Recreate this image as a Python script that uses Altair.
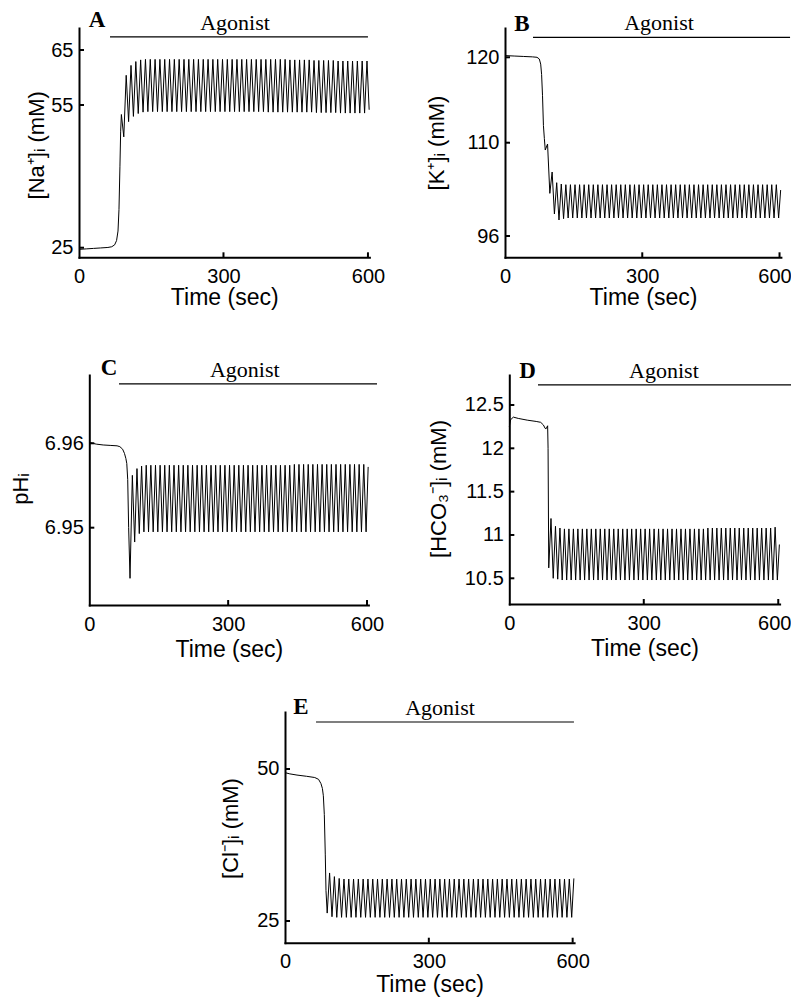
import altair as alt
import pandas as pd

# ---------------- data ----------------
# shared sample times of the oscillation peaks / troughs (s)
osc_t = [88, 93, 98, 103, 108, 113, 118, 123, 128, 133,
         138, 143, 148, 153, 158, 163, 168, 173, 178, 183,
         188, 193, 198, 203, 208, 213, 218, 223, 228, 233,
         238, 243, 248, 253, 258, 263, 268, 273, 278, 283,
         288, 293, 298, 303, 308, 313, 318, 323, 328, 333,
         338, 343, 348, 353, 358, 363, 368, 373, 378, 383,
         388, 393, 398, 403, 408, 413, 418, 423, 428, 433,
         438, 443, 448, 453, 458, 463, 468, 473, 478, 483,
         488, 493, 498, 503, 508, 513, 518, 523, 528, 533,
         538, 543, 548, 553, 558, 563, 568, 573, 578, 583,
         588, 593, 598, 602.5]

# A: [Na+]i
na_pre_t = [0, 15, 30, 45, 60, 68, 74, 78, 81, 83, 85, 86.5]
na_pre_v = [24.65, 24.75, 24.85, 24.95, 25.05, 25.2, 25.6, 26.5, 28.5, 33, 42, 49.5]
na_osc_v = [53.0, 48.3, 60.4, 51.5, 62.2, 52.6, 62.9, 53.2, 63.2, 53.5,
            63.3, 53.6, 63.3, 53.6, 63.3, 53.6, 63.3, 53.6, 63.3, 53.6,
            63.3, 53.6, 63.3, 53.6, 63.3, 53.6, 63.3, 53.6, 63.3, 53.6,
            63.3, 53.6, 63.3, 53.6, 63.3, 53.6, 63.3, 53.6, 63.3, 53.6,
            63.3, 53.6, 63.3, 53.6, 63.3, 53.6, 63.3, 53.6, 63.3, 53.6,
            63.3, 53.6, 63.3, 53.6, 63.3, 53.6, 63.3, 53.6, 63.3, 53.6,
            63.3, 53.5, 63.3, 53.5, 63.3, 53.5, 63.3, 53.5, 63.3, 53.5,
            63.2, 53.5, 63.2, 53.5, 63.2, 53.5, 63.2, 53.5, 63.2, 53.5,
            63.1, 53.4, 63.1, 53.4, 63.1, 53.4, 63.1, 53.4, 63.1, 53.4,
            63.0, 53.3, 63.0, 53.3, 63.0, 53.3, 63.0, 53.3, 63.0, 53.3,
            63.0, 53.3, 63.0, 54.0]

# B: [K+]i
k_pre_t = [0, 20, 40, 60, 70, 75, 78, 80, 82, 84, 86]
k_pre_v = [120.2, 120.15, 120.1, 120.05, 120.0, 119.8, 119.2, 118.0, 115.5, 112.0, 110.5]
k_osc_v = [108.9, 109.8, 102.4, 105.6, 99.3, 104.0, 98.4, 103.8, 98.6, 103.7,
           98.7, 103.7, 98.7, 103.7, 98.7, 103.7, 98.7, 103.7, 98.7, 103.7,
           98.7, 103.7, 98.7, 103.7, 98.7, 103.7, 98.7, 103.7, 98.7, 103.7,
           98.7, 103.7, 98.7, 103.7, 98.7, 103.7, 98.7, 103.7, 98.7, 103.7,
           98.7, 103.7, 98.7, 103.7, 98.7, 103.7, 98.7, 103.7, 98.7, 103.7,
           98.7, 103.7, 98.7, 103.7, 98.7, 103.7, 98.7, 103.7, 98.7, 103.7,
           98.7, 103.7, 98.7, 103.7, 98.7, 103.7, 98.7, 103.7, 98.7, 103.7,
           98.7, 103.7, 98.7, 103.7, 98.7, 103.7, 98.7, 103.7, 98.7, 103.7,
           98.7, 103.7, 98.7, 103.7, 98.7, 103.7, 98.7, 103.7, 98.7, 103.7,
           98.7, 103.7, 98.7, 103.7, 98.7, 103.7, 98.7, 103.7, 98.7, 103.7,
           98.7, 103.7, 98.7, 102.9]

# C: pHi
ph_pre_t = [0, 15, 30, 45, 60, 66, 72, 76, 79, 81, 83, 85]
ph_pre_v = [6.9601, 6.9599, 6.9598, 6.95975, 6.9597, 6.9596, 6.9593, 6.9588,
            6.9582, 6.9576, 6.9557, 6.9500]
ph_osc_v = [6.9440, 6.9562, 6.9483, 6.9570, 6.9493, 6.9573, 6.9495, 6.9574, 6.9495, 6.9574,
            6.9495, 6.9574, 6.9495, 6.9574, 6.9495, 6.9574, 6.9495, 6.9574, 6.9495, 6.9574,
            6.9495, 6.9574, 6.9495, 6.9574, 6.9495, 6.9574, 6.9495, 6.9574, 6.9495, 6.9574,
            6.9495, 6.9574, 6.9495, 6.9574, 6.9495, 6.9574, 6.9495, 6.9574, 6.9495, 6.9574,
            6.9495, 6.9574, 6.9495, 6.9574, 6.9495, 6.9574, 6.9495, 6.9574, 6.9495, 6.9574,
            6.9495, 6.9574, 6.9495, 6.9574, 6.9495, 6.9574, 6.9495, 6.9574, 6.9495, 6.9574,
            6.9495, 6.9574, 6.9495, 6.9574, 6.9495, 6.9574, 6.9495, 6.9574, 6.9495, 6.9574,
            6.9495, 6.9575, 6.9495, 6.9575, 6.9495, 6.9575, 6.9495, 6.9575, 6.9495, 6.9575,
            6.9495, 6.9575, 6.9495, 6.9575, 6.9495, 6.9575, 6.9495, 6.9575, 6.9495, 6.9575,
            6.9495, 6.9575, 6.9495, 6.9575, 6.9495, 6.9575, 6.9495, 6.9575, 6.9495, 6.9575,
            6.9495, 6.9575, 6.9495, 6.9572]

# D: [HCO3-]i
hco3_pre_t = [0, 3, 9, 20, 40, 60, 70, 76, 80, 82, 85.5, 86.5]
hco3_pre_v = [12.25, 12.33, 12.36, 12.345, 12.325, 12.31, 12.30, 12.27, 12.23, 12.225, 12.26, 12.0]
hco3_osc_v = [10.62, 11.19, 10.50, 11.10, 10.49, 11.08, 10.48, 11.07, 10.48, 11.07,
              10.48, 11.07, 10.48, 11.07, 10.48, 11.07, 10.48, 11.07, 10.48, 11.07,
              10.48, 11.07, 10.48, 11.07, 10.48, 11.07, 10.48, 11.07, 10.48, 11.07,
              10.48, 11.07, 10.48, 11.07, 10.48, 11.07, 10.48, 11.07, 10.48, 11.07,
              10.48, 11.07, 10.48, 11.07, 10.48, 11.07, 10.48, 11.07, 10.48, 11.07,
              10.48, 11.07, 10.48, 11.07, 10.48, 11.07, 10.48, 11.07, 10.48, 11.07,
              10.48, 11.07, 10.48, 11.07, 10.48, 11.07, 10.48, 11.07, 10.48, 11.07,
              10.48, 11.08, 10.48, 11.08, 10.48, 11.08, 10.48, 11.08, 10.48, 11.08,
              10.48, 11.08, 10.48, 11.08, 10.48, 11.08, 10.48, 11.08, 10.48, 11.08,
              10.48, 11.08, 10.48, 11.08, 10.48, 11.08, 10.48, 11.08, 10.48, 11.08,
              10.48, 11.09, 10.48, 10.89]

# E: [Cl-]i
cl_pre_t = [0, 10, 25, 45, 62, 70, 75, 78, 80, 82, 84, 85.5]
cl_pre_v = [49.4, 49.2, 49.0, 48.8, 48.6, 48.3, 47.6, 46.8, 45.6, 42.5, 36, 30]
cl_osc_v = [26.3, 32.9, 25.7, 32.3, 25.6, 32.0, 25.6, 31.9, 25.6, 31.9,
            25.6, 31.9, 25.6, 31.9, 25.6, 31.9, 25.6, 31.9, 25.6, 31.9,
            25.6, 31.9, 25.6, 31.9, 25.6, 31.9, 25.6, 31.9, 25.6, 31.9,
            25.6, 31.9, 25.6, 31.9, 25.6, 31.9, 25.6, 31.9, 25.6, 31.9,
            25.6, 31.9, 25.6, 31.9, 25.6, 31.9, 25.6, 31.9, 25.6, 31.9,
            25.6, 31.9, 25.6, 31.9, 25.6, 31.9, 25.6, 31.9, 25.6, 31.9,
            25.6, 31.9, 25.6, 31.9, 25.6, 31.9, 25.6, 31.9, 25.6, 31.9,
            25.6, 31.9, 25.6, 31.9, 25.6, 31.9, 25.6, 31.9, 25.6, 31.9,
            25.6, 31.9, 25.6, 31.9, 25.6, 31.9, 25.6, 31.9, 25.6, 31.9,
            25.6, 31.9, 25.6, 31.9, 25.6, 31.9, 25.6, 31.9, 25.6, 31.9,
            25.6, 31.9, 25.6, 32.0]

# axis ticks and labels
x_ticks = [0, 300, 600]
na_ticks = [25, 55, 65]
k_ticks = [96, 110, 120]
ph_ticks = [6.95, 6.96]
hco3_ticks = [10.5, 11, 11.5, 12, 12.5]
cl_ticks = [25, 50]

panel_letters = ["A", "B", "C", "D", "E"]
y_titles = ["[Na⁺]ᵢ (mM)", "[K⁺]ᵢ (mM)", "pHᵢ", "[HCO₃⁻]ᵢ (mM)", "[Cl⁻]ᵢ (mM)"]
x_title = "Time (sec)"
agonist_label = "Agonist"
# agonist bar (time start/end, level in panel units)
agonist_start = [64.4, 61.2, 64.2, 64.0, 64.7]
agonist_end = [600, 623, 621.6, 639.5, 602.7]
agonist_level = [67.4, 122.34, 6.96703, 12.731, 57.73]
agonist_text_t = [323.9, 336.6, 335.8, 345, 323.3]
agonist_text_v = [68.6, 123.2, 6.96789, 12.815, 58.88]
letter_t = [37.4, 37.2, 42.6, 40.6, 33.4]
letter_v = [69.2, 123.1, 6.96809, 12.808, 59.05]

# ---------------- layout (positions / styles) ----------------
W, H = 783, 990
layout = [
    dict(x_range=[71, 361.4], y_domain=[22.98, 25, 55, 65, 69.0],
         y_range=[249.3, 239.7, 97, 42, 20], title_x=-36, title_y=136.8, xtitle_y=47,
         ytick_len=10.4, xtick_v=[22.98, 24.03], last_label_shift=0),
    dict(x_range=[497, 772.9], y_domain=[92.80, 96, 110, 120, 123.43],
         y_range=[249.3, 228, 134.7, 49.3, 20], title_x=-62, title_y=134.5, xtitle_y=47,
         ytick_len=10.9, xtick_v=[92.80, 93.55], last_label_shift=-5),
    dict(x_range=[81.3, 360.4], y_domain=[6.94084, 6.96809],
         y_range=[597, 367], title_x=-61.5, title_y=480.5, xtitle_y=51,
         ytick_len=10.8, xtick_v=[6.94084, 6.94143], last_label_shift=0),
    dict(x_range=[501.3, 771.6], y_domain=[10.2034, 12.846],
         y_range=[596, 367], title_x=-64.3, title_y=480.5, xtitle_y=51,
         ytick_len=11.2, xtick_v=[10.2034, 10.261], last_label_shift=-4),
    dict(x_range=[277, 566.1], y_domain=[21.43, 59.375],
         y_range=[934.7, 704], title_x=-48, title_y=820, xtitle_y=49,
         ytick_len=10.4, xtick_v=[21.43, 22.25], last_label_shift=0),
]

series = [
    (na_pre_t, na_pre_v, na_osc_v, na_ticks),
    (k_pre_t, k_pre_v, k_osc_v, k_ticks),
    (ph_pre_t, ph_pre_v, ph_osc_v, ph_ticks),
    (hco3_pre_t, hco3_pre_v, hco3_osc_v, hco3_ticks),
    (cl_pre_t, cl_pre_v, cl_osc_v, cl_ticks),
]

SANS = "Liberation Sans"
SERIF = "Liberation Serif"


def panel_layers(i):
    pre_t, pre_v, osc_v, yt = series[i]
    g = layout[i]

    def sx():
        return alt.Scale(domain=[0, 603], range=g["x_range"], nice=False, zero=False)

    def sy():
        return alt.Scale(domain=g["y_domain"], range=g["y_range"], nice=False, zero=False)

    df = pd.DataFrame({"t": pre_t + osc_t, "v": pre_v + osc_v})

    x_axis_kw = dict(orient="bottom", offset=g["y_range"][0] - H, values=x_ticks,
                     format=".6~g", title=x_title, titleFontSize=23,
                     titleBaseline="alphabetic", titleY=g["xtitle_y"],
                     labelPadding=9, labelFlush=False, domainCap="square")
    if g["last_label_shift"]:
        x_axis_kw["labelOffset"] = {"condition": {"test": "datum.value >= 600",
                                                  "value": g["last_label_shift"]},
                                    "value": 0}
    x_axis = alt.Axis(**x_axis_kw)
    y_axis = alt.Axis(orient="left", offset=-g["x_range"][0], values=yt, format=".6~g",
                      title=y_titles[i], titleAngle=270, titleAlign="center",
                      titleBaseline="alphabetic", titleX=g["title_x"], titleY=g["title_y"],
                      labelPadding=6, domainCap="square")

    line = alt.Chart(df).mark_line(color="black", strokeWidth=1).encode(
        x=alt.X("t:Q", scale=sx(), axis=x_axis),
        y=alt.Y("v:Q", scale=sy(), axis=y_axis),
    )

    ytick_df = pd.DataFrame({"v": yt, "t0": [0] * len(yt), "t1": [g["ytick_len"]] * len(yt)})
    yticks = alt.Chart(ytick_df).mark_rule(color="black", strokeWidth=2).encode(
        x=alt.X("t0:Q", scale=sx(), axis=None), x2="t1:Q",
        y=alt.Y("v:Q", scale=sy(), axis=None),
    )
    xt = x_ticks[1:]
    xtick_df = pd.DataFrame({"t": xt, "v0": [g["xtick_v"][0]] * len(xt),
                             "v1": [g["xtick_v"][1]] * len(xt)})
    xticks = alt.Chart(xtick_df).mark_rule(color="black", strokeWidth=2).encode(
        x=alt.X("t:Q", scale=sx(), axis=None),
        y=alt.Y("v0:Q", scale=sy(), axis=None), y2="v1:Q",
    )

    ann = pd.DataFrame({
        "t0": [agonist_start[i]], "t1": [agonist_end[i]], "lv": [agonist_level[i]],
        "tt": [agonist_text_t[i]], "tv": [agonist_text_v[i]], "label": [agonist_label],
        "lt": [letter_t[i]], "lev": [letter_v[i]], "letter": [panel_letters[i]],
    })
    bar = alt.Chart(ann).mark_rule(color="black", strokeWidth=1.2).encode(
        x=alt.X("t0:Q", scale=sx(), axis=None), x2="t1:Q",
        y=alt.Y("lv:Q", scale=sy(), axis=None),
    )
    txt = alt.Chart(ann).mark_text(font=SERIF, fontSize=22, color="black",
                                   align="center", baseline="alphabetic").encode(
        x=alt.X("tt:Q", scale=sx(), axis=None),
        y=alt.Y("tv:Q", scale=sy(), axis=None),
        text="label:N",
    )
    let = alt.Chart(ann).mark_text(font=SERIF, fontSize=23, fontWeight="bold", color="black",
                                   align="center", baseline="alphabetic").encode(
        x=alt.X("lt:Q", scale=sx(), axis=None),
        y=alt.Y("lev:Q", scale=sy(), axis=None),
        text="letter:N",
    )
    return [line, yticks, xticks, bar, txt, let]


all_layers = []
for i in range(5):
    all_layers.extend(panel_layers(i))

chart = alt.layer(*all_layers).resolve_scale(
    x="independent", y="independent"
).resolve_axis(
    x="independent", y="independent"
).properties(
    width=W, height=H, padding=0,
    autosize=alt.AutoSizeParams(type="none"),
).configure_axis(
    grid=False, ticks=False, tickSize=0,
    domainColor="black", domainWidth=2,
    labelFont=SANS, labelFontSize=20, labelColor="black",
    titleFont=SANS, titleFontSize=22, titleFontWeight="normal", titleColor="black",
).configure_view(strokeWidth=0)

chart.save("out.html", embed_options={"renderer": "svg", "actions": False})
